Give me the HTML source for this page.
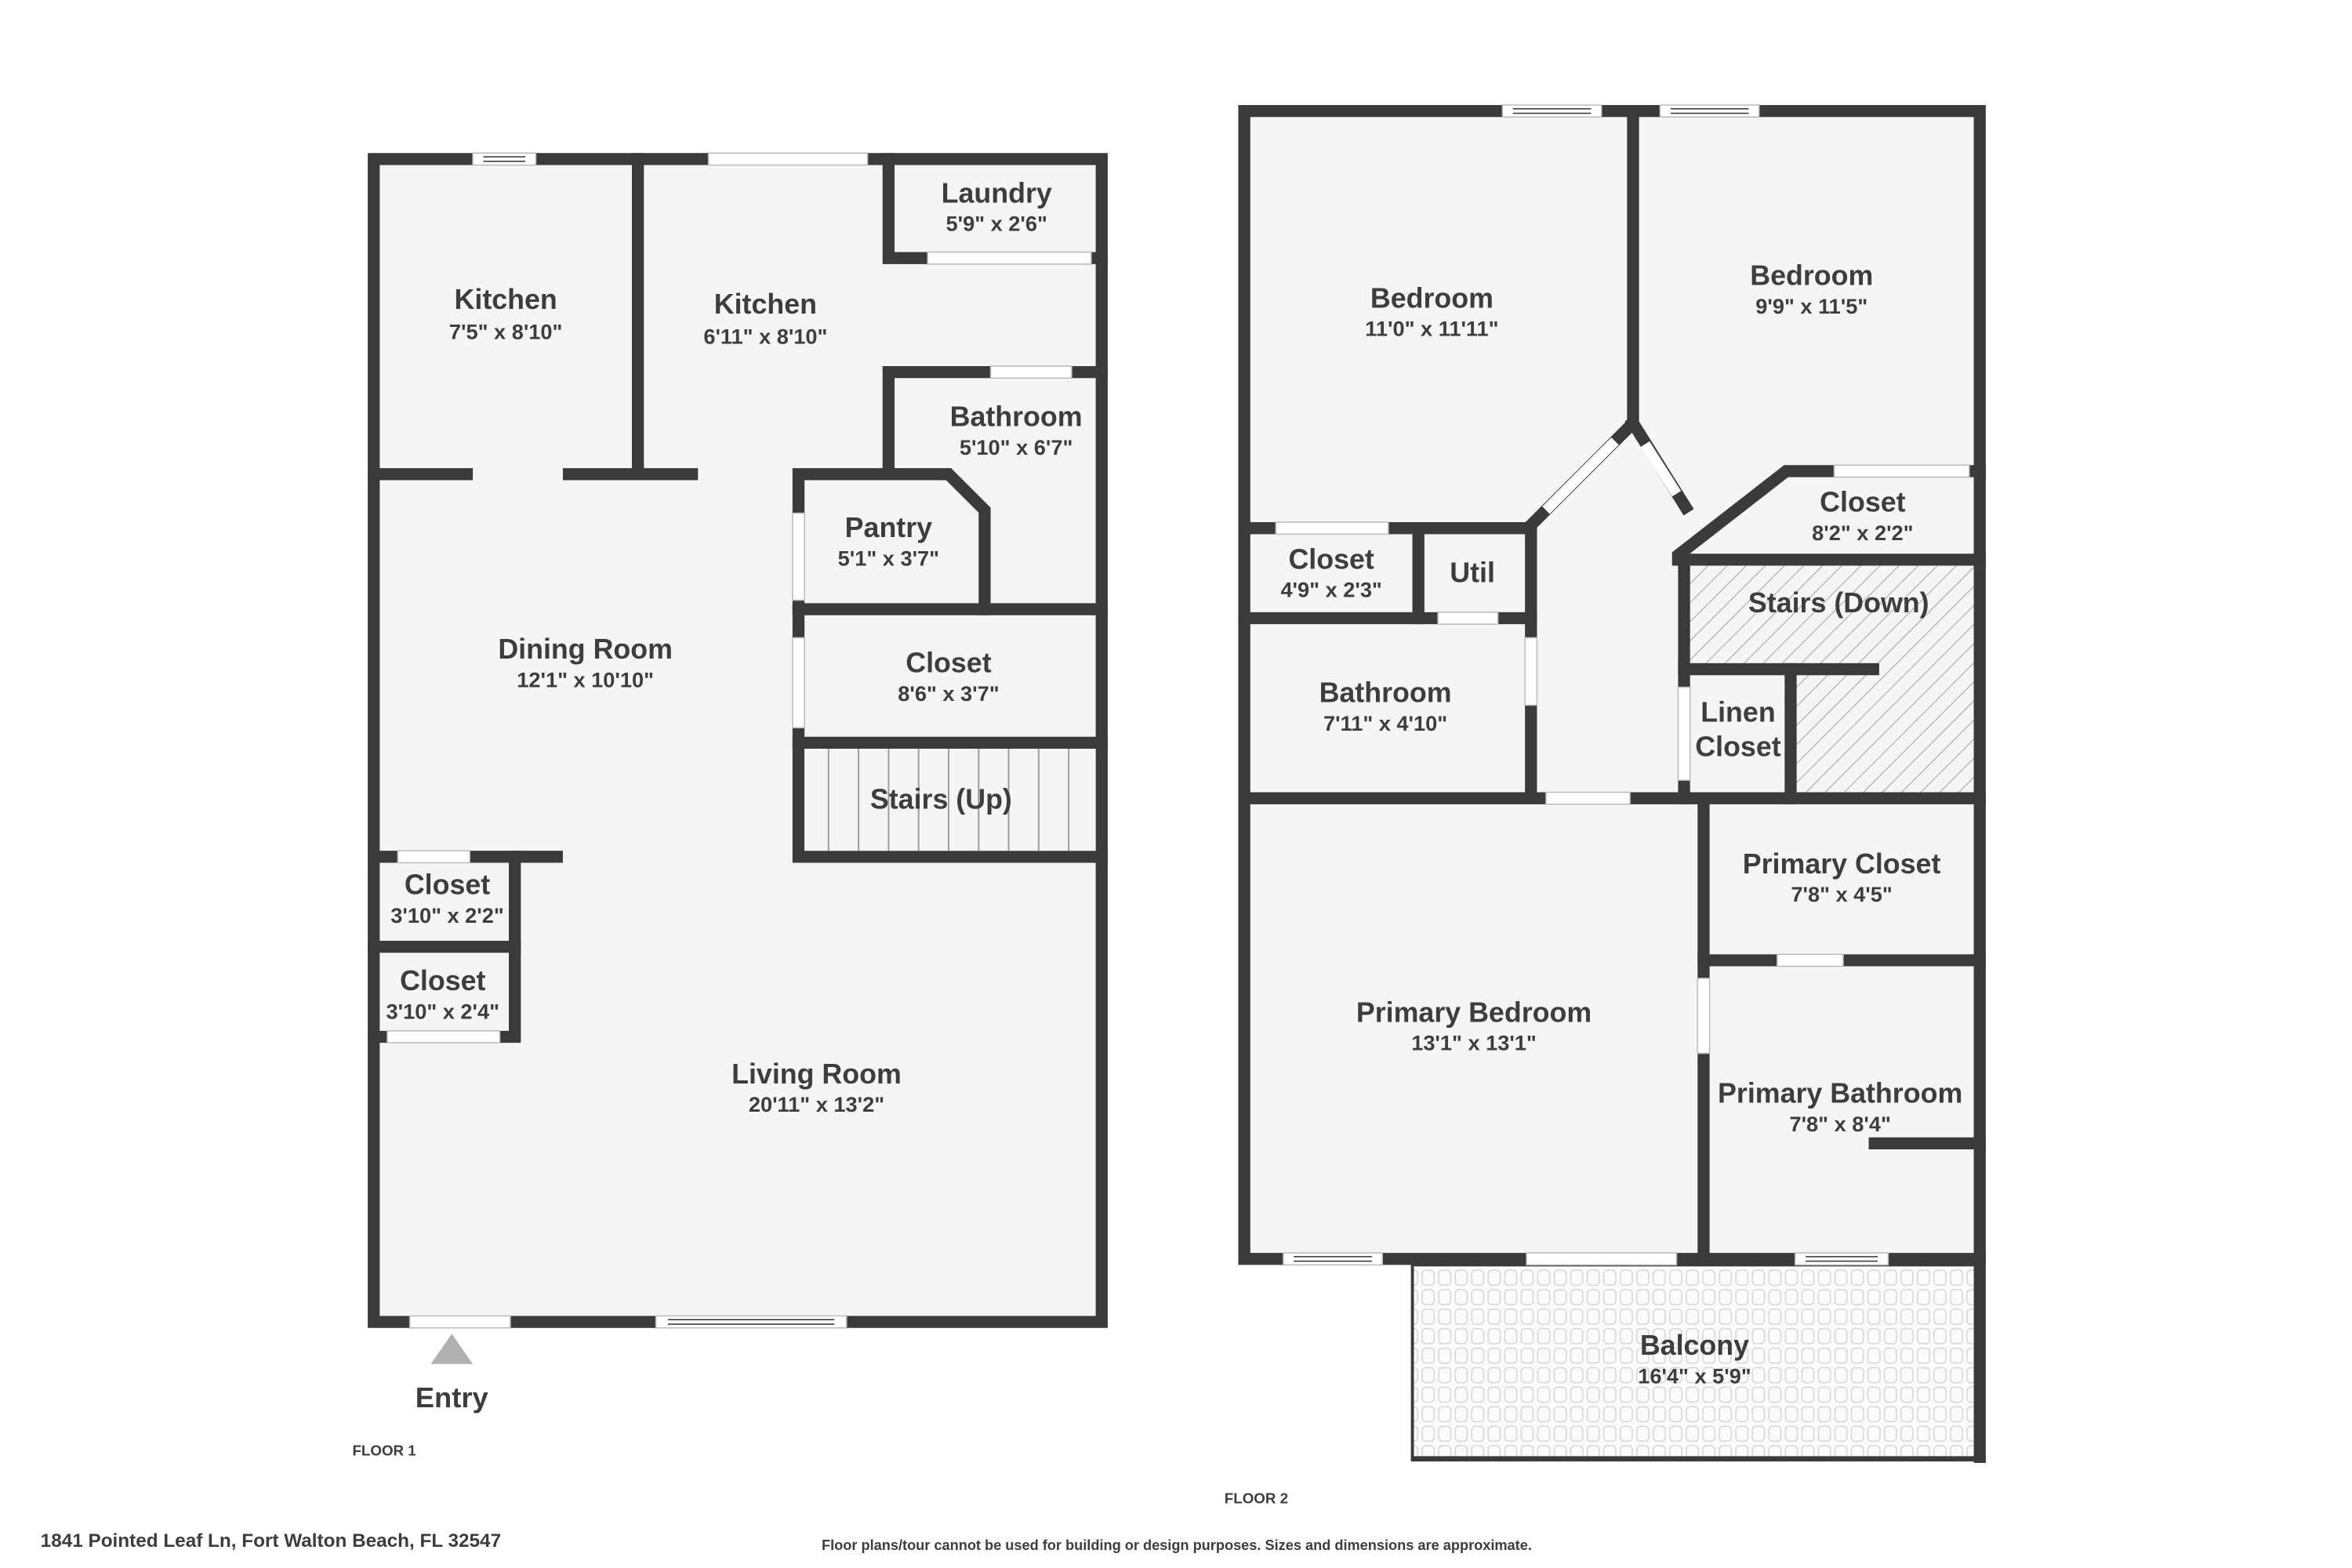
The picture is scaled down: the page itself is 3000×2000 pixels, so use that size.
<!DOCTYPE html>
<html><head><meta charset="utf-8"><style>
html,body{margin:0;padding:0;background:#fff;}
svg{display:block;}
text{font-family:"Liberation Sans","DejaVu Sans",sans-serif;fill:#3d3d3d;text-anchor:middle;}
.n{font-size:18.7px;font-weight:700;}
.d{font-size:14.2px;font-weight:700;}
</style></head><body>
<svg width="3000" height="2000" viewBox="0 0 1567 1045" preserveAspectRatio="none" xmlns="http://www.w3.org/2000/svg">
<defs>
<pattern id="hatch" width="9" height="9" patternUnits="userSpaceOnUse" patternTransform="rotate(45)">
<rect width="9" height="9" fill="#f5f5f5"/><line x1="0" y1="0" x2="0" y2="9" stroke="#888" stroke-width="0.8"/>
</pattern>
<pattern id="tile" width="11" height="13" patternUnits="userSpaceOnUse">
<rect width="11" height="13" fill="#fbfbfb"/>
<rect x="1.5" y="1.5" width="8" height="10" rx="2.5" fill="none" stroke="#d6d6d6" stroke-width="0.8"/>
</pattern>
</defs>
<rect width="1567" height="1045" fill="#fff"/>

<!-- FLOOR 1 -->
<rect x="249" y="106" width="485" height="775" fill="#f5f5f5"/>
<g stroke="#3a3a3a" stroke-width="8" fill="none" stroke-linecap="square">
<rect x="249" y="106" width="485" height="775"/>
<line x1="425" y1="106" x2="425" y2="316"/>
<line x1="249" y1="316" x2="311" y2="316"/>
<line x1="379" y1="316" x2="461" y2="316"/>
<polyline points="592,106 592,172 734,172"/>
<polyline points="734,248 592,248 592,316"/>
<polyline points="532,406 532,316 632,316 656,340 656,406"/>
<line x1="532" y1="406" x2="734" y2="406"/>
<polyline points="532,406 532,495 734,495"/>
<polyline points="532,495 532,571 734,571"/>
<polyline points="249,571 371,571"/>
<polyline points="343,571 343,691 249,691"/>
<line x1="249" y1="631" x2="343" y2="631"/>
</g>
<rect x="536" y="499" width="194" height="68" fill="#f5f5f5"/>
<g stroke="#999" stroke-width="1">
<line x1="552" y1="499" x2="552" y2="567"/><line x1="572" y1="499" x2="572" y2="567"/>
<line x1="592" y1="499" x2="592" y2="567"/><line x1="612" y1="499" x2="612" y2="567"/>
<line x1="632" y1="499" x2="632" y2="567"/><line x1="652" y1="499" x2="652" y2="567"/>
<line x1="672" y1="499" x2="672" y2="567"/><line x1="692" y1="499" x2="692" y2="567"/>
<line x1="712" y1="499" x2="712" y2="567"/>
</g>
<g fill="#fff" stroke="#bbb" stroke-width="0.8">
<rect x="472" y="102" width="106" height="8"/>
<rect x="618" y="168" width="109" height="8"/>
<rect x="660" y="244" width="54" height="8"/>
<rect x="528" y="342" width="8" height="58"/>
<rect x="528" y="425" width="8" height="60"/>
<rect x="265" y="567" width="48" height="8"/>
<rect x="258" y="687" width="75" height="8"/>
<rect x="273" y="877" width="67" height="8"/>
<rect x="315" y="102" width="42" height="8"/>
<rect x="437" y="877" width="127" height="8"/>
</g>
<g stroke="#333" stroke-width="0.8">
<line x1="322" y1="104.5" x2="350" y2="104.5"/><line x1="322" y1="107.5" x2="350" y2="107.5"/>
<line x1="445" y1="879.5" x2="556" y2="879.5"/><line x1="445" y1="882.5" x2="556" y2="882.5"/>
</g>
<polygon points="301,889 287,909 315,909" fill="#b0b0b0"/>
<text x="301" y="938" style="font-size:19px;font-weight:700">Entry</text>
<text x="256" y="970" style="font-size:9.8px;font-weight:700">FLOOR 1</text>

<text class="n" x="337" y="206">Kitchen</text><text class="d" x="337" y="226">7'5" x 8'10"</text>
<text class="n" x="510" y="209">Kitchen</text><text class="d" x="510" y="229">6'11" x 8'10"</text>
<text class="n" x="664" y="135">Laundry</text><text class="d" x="664" y="154">5'9" x 2'6"</text>
<text class="n" x="677" y="284">Bathroom</text><text class="d" x="677" y="303">5'10" x 6'7"</text>
<text class="n" x="592" y="358">Pantry</text><text class="d" x="592" y="377">5'1" x 3'7"</text>
<text class="n" x="390" y="439">Dining Room</text><text class="d" x="390" y="458">12'1" x 10'10"</text>
<text class="n" x="632" y="448">Closet</text><text class="d" x="632" y="467">8'6" x 3'7"</text>
<text class="n" x="627" y="539">Stairs (Up)</text>
<text class="n" x="298" y="596">Closet</text><text class="d" x="298" y="615">3'10" x 2'2"</text>
<text class="n" x="295" y="660">Closet</text><text class="d" x="295" y="679">3'10" x 2'4"</text>
<text class="n" x="544" y="722">Living Room</text><text class="d" x="544" y="741">20'11" x 13'2"</text>

<!-- FLOOR 2 -->
<rect x="829" y="74" width="490" height="765" fill="#f5f5f5"/>
<rect x="941" y="843" width="378" height="130" fill="url(#tile)"/>
<rect x="1122" y="377" width="193" height="151" fill="url(#hatch)"/>
<rect x="1126" y="450" width="63" height="78" fill="#f5f5f5"/>
<g stroke="#3a3a3a" stroke-width="8" fill="none" stroke-linecap="square">
<rect x="829" y="74" width="490" height="765"/>
<line x1="1319" y1="839" x2="1319" y2="971"/>
<polyline points="1020,530 1020,350 1088,282 1088,74"/>
<line x1="1088" y1="282" x2="1123" y2="338"/>
<line x1="829" y1="352" x2="1020" y2="352"/>
<line x1="945" y1="352" x2="945" y2="412"/>
<line x1="829" y1="412" x2="1020" y2="412"/>
<line x1="829" y1="532" x2="1319" y2="532"/>
<polyline points="1319,314 1190,314 1118,370 1118,373 1319,373"/>
<line x1="1122" y1="373" x2="1122" y2="532"/>
<line x1="1122" y1="446" x2="1248" y2="446"/>
<line x1="1193" y1="446" x2="1193" y2="532"/>
<line x1="1135" y1="532" x2="1135" y2="839"/>
<line x1="1135" y1="640" x2="1319" y2="640"/>
<line x1="1249" y1="762" x2="1319" y2="762"/>
</g>
<rect x="941" y="843" width="378" height="130" fill="none" stroke="#3a3a3a" stroke-width="2"/>
<line x1="941" y1="972" x2="1323" y2="972" stroke="#3a3a3a" stroke-width="3"/>
<line x1="1076" y1="294" x2="1030" y2="340" stroke="#fff" stroke-width="7"/>
<line x1="1096" y1="296" x2="1117" y2="329" stroke="#fff" stroke-width="7"/>
<g fill="#fff" stroke="#bbb" stroke-width="0.8">
<rect x="1001" y="70" width="66" height="8"/>
<rect x="1106" y="70" width="66" height="8"/>
<rect x="1222" y="310" width="90" height="8"/>
<rect x="850" y="348" width="75" height="8"/>
<rect x="958" y="408" width="40" height="8"/>
<rect x="1016" y="425" width="8" height="45"/>
<rect x="1030" y="528" width="56" height="8"/>
<rect x="1118" y="458" width="8" height="62"/>
<rect x="1184" y="636" width="44" height="8"/>
<rect x="1131" y="652" width="8" height="50"/>
<rect x="855" y="835" width="66" height="8"/>
<rect x="1017" y="835" width="100" height="8"/>
<rect x="1196" y="835" width="62" height="8"/>
</g>
<g stroke="#333" stroke-width="0.8">
<line x1="1008" y1="72.5" x2="1060" y2="72.5"/><line x1="1008" y1="75.5" x2="1060" y2="75.5"/>
<line x1="1113" y1="72.5" x2="1165" y2="72.5"/><line x1="1113" y1="75.5" x2="1165" y2="75.5"/>
<line x1="862" y1="837.5" x2="914" y2="837.5"/><line x1="862" y1="840.5" x2="914" y2="840.5"/>
<line x1="1203" y1="837.5" x2="1251" y2="837.5"/><line x1="1203" y1="840.5" x2="1251" y2="840.5"/>
</g>

<text class="n" x="954" y="205">Bedroom</text><text class="d" x="954" y="224">11'0" x 11'11"</text>
<text class="n" x="1207" y="190">Bedroom</text><text class="d" x="1207" y="209">9'9" x 11'5"</text>
<text class="n" x="1241" y="341">Closet</text><text class="d" x="1241" y="360">8'2" x 2'2"</text>
<text class="n" x="887" y="379">Closet</text><text class="d" x="887" y="398">4'9" x 2'3"</text>
<text class="n" x="981" y="388">Util</text>
<text class="n" x="1225" y="408">Stairs (Down)</text>
<text class="n" x="1158" y="481">Linen</text><text class="n" x="1158" y="504">Closet</text>
<text class="n" x="923" y="468">Bathroom</text><text class="d" x="923" y="487">7'11" x 4'10"</text>
<text class="n" x="1227" y="582">Primary Closet</text><text class="d" x="1227" y="601">7'8" x 4'5"</text>
<text class="n" x="982" y="681">Primary Bedroom</text><text class="d" x="982" y="700">13'1" x 13'1"</text>
<text class="n" x="1226" y="735">Primary Bathroom</text><text class="d" x="1226" y="754">7'8" x 8'4"</text>
<text class="n" x="1129" y="903">Balcony</text><text class="d" x="1129" y="922">16'4" x 5'9"</text>
<text x="837" y="1002" style="font-size:9.8px;font-weight:700">FLOOR 2</text>

<text x="27" y="1031" style="font-size:12.7px;font-weight:700;text-anchor:start">1841 Pointed Leaf Ln, Fort Walton Beach, FL 32547</text>
<text x="784" y="1033" style="font-size:9.5px;font-weight:700">Floor plans/tour cannot be used for building or design purposes. Sizes and dimensions are approximate.</text>
</svg>
</body></html>
